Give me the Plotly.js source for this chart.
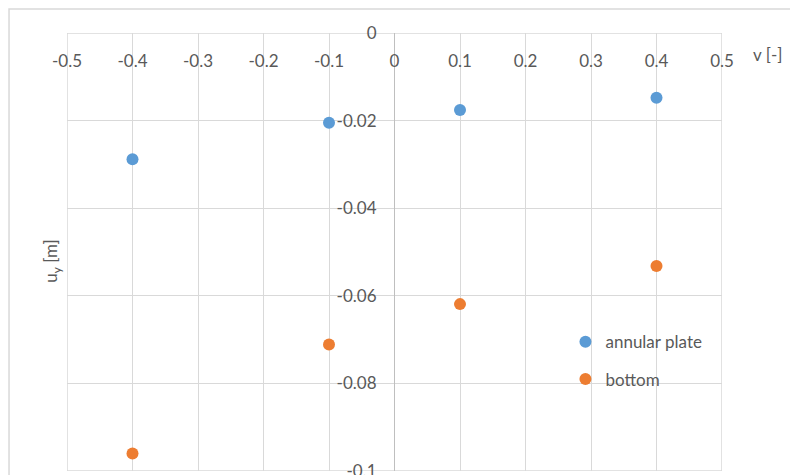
<!DOCTYPE html>
<html>
<head>
<meta charset="utf-8">
<script src="https://cdn.plot.ly/plotly-3.0.1.min.js"></script>
<style>html,body{margin:0;padding:0;background:#fff;}#chart{width:790px;height:475px;}</style>
</head>
<body>
<div id="chart"></div>
<script>
const nu = [-0.4, -0.1, 0.1, 0.4];
const annularPlate = [-0.0288, -0.0205, -0.0176, -0.0148];
const bottom = [-0.0960, -0.0711, -0.0619, -0.0532];
const seriesNames = ['annular plate', 'bottom'];
const xTickVals = [-0.5, -0.4, -0.3, -0.2, -0.1, 0, 0.1, 0.2, 0.3, 0.4, 0.5];
const xTickText = ['-0.5', '-0.4', '-0.3', '-0.2', '-0.1', '0', '0.1', '0.2', '0.3', '0.4', '0.5'];
const yTickVals = [0, -0.02, -0.04, -0.06, -0.08, -0.1];
const yTickText = ['0', '-0.02', '-0.04', '-0.06', '-0.08', '-0.1'];
const xTitle = 'v [-]';
const yTitle = 'u<sub>y</sub> [m]';

const FONT = 'Lato, "Open Sans", "Liberation Sans", sans-serif';
const GRAY = '#595959';
const GRID = '#d9d9d9';

const traces = [
  {x: nu, y: annularPlate, name: seriesNames[0], type: 'scatter', mode: 'markers',
   legendgroup: 'a', marker: {color: '#5b9bd5', size: 12}},
  {x: nu, y: bottom, name: seriesNames[1], type: 'scatter', mode: 'markers',
   legendgroup: 'b', marker: {color: '#ed7d31', size: 12}}
];

const layout = {
  width: 790, height: 475,
  margin: {l: 67, r: 68, t: 33, b: 4, pad: 0},
  paper_bgcolor: '#fff', plot_bgcolor: '#fff',
  font: {family: FONT, size: 17, color: GRAY},
  showlegend: true,
  legend: {x: 0.761, y: 0.335, xanchor: 'left', yanchor: 'top',
           font: {family: FONT, size: 17, color: GRAY}, bgcolor: 'rgba(0,0,0,0)',
           traceorder: 'grouped', tracegroupgap: 12, itemwidth: 30},
  xaxis: {range: [-0.5, 0.5], side: 'bottom', anchor: 'free', position: 1,
          tickvals: xTickVals, ticktext: xTickText,
          ticks: '', ticklabelstandoff: 16, ticklabeloverflow: 'allow',
          showgrid: true, gridcolor: GRID, gridwidth: 1,
          zeroline: true, zerolinecolor: '#bfbfbf', zerolinewidth: 1,
          showline: false, tickfont: {family: FONT, size: 17, color: GRAY}},
  yaxis: {range: [-0.1, 0], anchor: 'free', position: 0.5, side: 'left',
          tickvals: yTickVals, ticktext: yTickText, ticklabeloverflow: 'allow',
          ticks: '', ticklabelstandoff: 18, showgrid: true, gridcolor: GRID, gridwidth: 1,
          zeroline: false, showline: false, tickfont: {family: FONT, size: 17, color: GRAY}},
  shapes: [
    {type: 'rect', xref: 'x', yref: 'y', x0: -0.5, x1: 0.5, y0: -0.1, y1: 0,
     line: {color: GRID, width: 1.5}, fillcolor: 'rgba(0,0,0,0)', layer: 'below'},
    {type: 'rect', xref: 'paper', yref: 'paper', x0: -0.0885, x1: 1.3, y0: -0.2, y1: 1.0548,
     line: {color: GRID, width: 1.5}, fillcolor: 'rgba(0,0,0,0)', layer: 'below'}
  ],
  annotations: [
    {text: xTitle, xref: 'paper', yref: 'paper', x: 1.045, y: 0.95, xanchor: 'left', yanchor: 'middle',
     showarrow: false, font: {family: FONT, size: 17, color: GRAY}},
    {text: yTitle, xref: 'paper', yref: 'paper', x: -0.023, y: 0.48, xanchor: 'center', yanchor: 'middle',
     textangle: -90, showarrow: false, font: {family: FONT, size: 17, color: GRAY}}
  ]
};

Plotly.newPlot('chart', traces, layout, {displayModeBar: false, staticPlot: true});
</script>
</body>
</html>
